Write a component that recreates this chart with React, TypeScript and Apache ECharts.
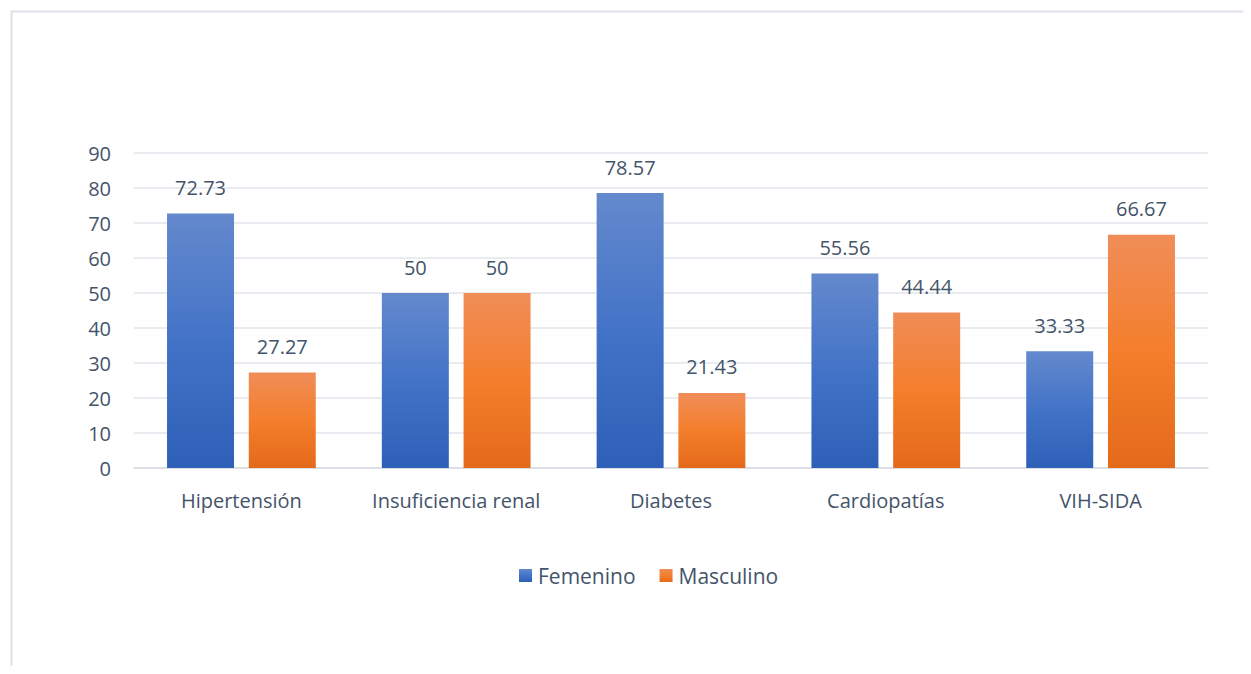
import React, { useEffect, useRef } from "react";
import * as echarts from "echarts";

const categories = ["Hipertensión", "Insuficiencia renal", "Diabetes", "Cardiopatías", "VIH-SIDA"];
const femenino = [72.73, 50, 78.57, 55.56, 33.33];
const masculino = [27.27, 50, 21.43, 44.44, 66.67];
const seriesNames = ["Femenino", "Masculino"];

const textColor = "#44546a";
const fontFamily = "'Open Sans', 'Noto Sans', sans-serif";
const fs = 20;

export default function App() {
  const ref = useRef<HTMLDivElement>(null);
  useEffect(() => {
    if (!ref.current) return;
    const chart = echarts.init(ref.current, undefined, { renderer: "svg" });
    const blue = new echarts.graphic.LinearGradient(0, 0, 0, 1, [
      { offset: 0, color: "#6489cd" },
      { offset: 0.5, color: "#4373c7" },
      { offset: 1, color: "#2e60b8" },
    ]);
    const orange = new echarts.graphic.LinearGradient(0, 0, 0, 1, [
      { offset: 0, color: "#f08d58" },
      { offset: 0.5, color: "#f47e2c" },
      { offset: 1, color: "#e36a1a" },
    ]);
    const label = {
      show: true,
      position: "top",
      distance: 16,
      color: textColor,
      fontSize: fs,
      fontFamily,
    };
    chart.setOption({
      animation: false,
      textStyle: { fontFamily },
      graphic: [
        {
          type: "rect",
          shape: { x: 3.5, y: 3.5, width: 1300, height: 720 },
          style: { fill: "none", stroke: "#dde1ea", lineWidth: 2 },
          silent: true,
        },
      ],
      grid: { left: 126, right: 43, top: 145, bottom: 198, containLabel: false },
      legend: {
        data: seriesNames,
        bottom: 75,
        left: 506,
        padding: 5,
        itemWidth: 13,
        itemHeight: 13,
        itemGap: 24,
        icon: "rect",
        textStyle: { color: textColor, fontSize: 21, fontFamily, padding: [0, 0, 0, 1] },
      },
      xAxis: {
        type: "category",
        data: categories,
        axisTick: { show: false },
        axisLine: { lineStyle: { color: "#d9dce3", width: 1.5 } },
        axisLabel: { color: textColor, fontSize: fs, margin: 22, fontFamily, interval: 0 },
      },
      yAxis: {
        type: "value",
        min: 0,
        max: 90,
        interval: 10,
        axisLine: { show: false },
        axisTick: { show: false },
        splitLine: { lineStyle: { color: "#e1e4eb", width: 1.5 } },
        axisLabel: { color: textColor, fontSize: fs, margin: 23, fontFamily },
      },
      series: [
        {
          name: seriesNames[0],
          type: "bar",
          data: femenino,
          itemStyle: { color: blue },
          barWidth: 67,
          barGap: "22%",
          label,
        },
        {
          name: seriesNames[1],
          type: "bar",
          data: masculino,
          itemStyle: { color: orange },
          barWidth: 67,
          label,
        },
      ],
    });
    return () => chart.dispose();
  }, []);
  return <div ref={ref} style={{ width: 1243, height: 658 }} />;
}
